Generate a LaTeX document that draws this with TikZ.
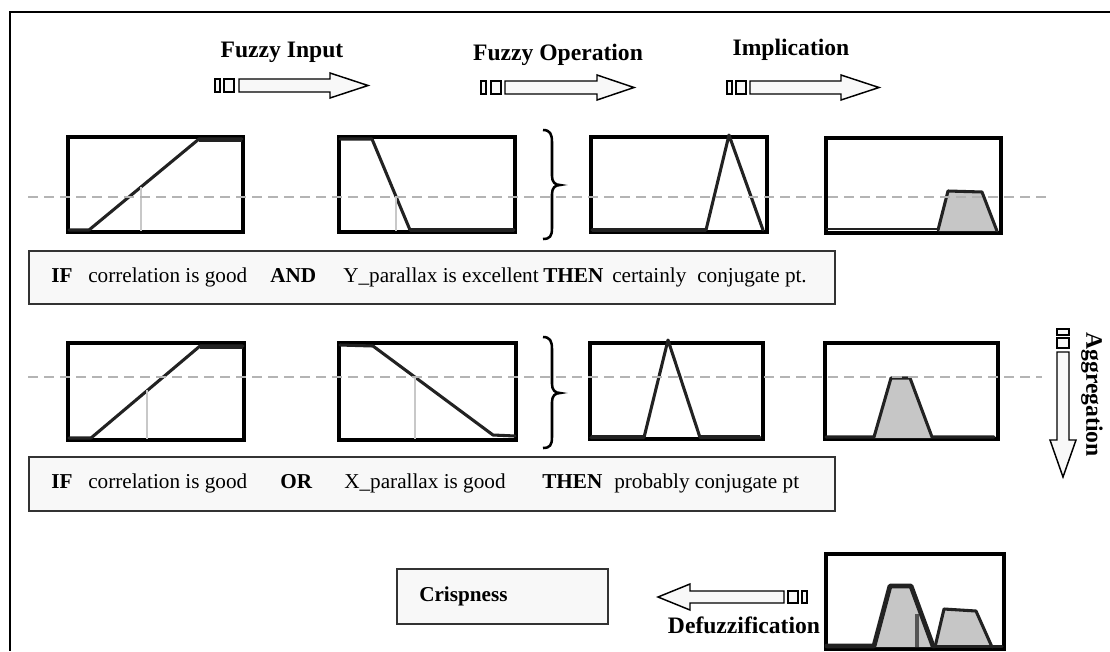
\documentclass[tikz,border=0pt]{standalone}
\usepackage{fontspec}
\setmainfont{Liberation Serif}
\definecolor{curvecol}{HTML}{222222}
\definecolor{vgray}{HTML}{C8C8C8}
\definecolor{dgray}{HTML}{B4B4B4}
\definecolor{fillgray}{HTML}{C6C6C6}
\definecolor{paper}{HTML}{F8F8F8}
\definecolor{rulebord}{HTML}{333333}
\definecolor{bargray}{HTML}{555555}
\newcommand\headfont{\fontsize{17.7}{20}\selectfont\bfseries}
\newcommand\rulefont{\fontsize{15.9}{18}\selectfont}
\begin{document}
\begin{tikzpicture}[x=0.75pt,y=-0.75pt,
  plotbox/.style={draw=black,line width=2.4pt},
  fn/.style={draw=curvecol,line width=2.3pt,line join=round,line cap=round},
  fnthick/.style={draw=curvecol,line width=3pt,line cap=butt},
  cut/.style={draw=vgray,line width=1.1pt},
  level/.style={draw=dgray,line width=1.1pt,dash pattern=on 7.5pt off 4.5pt},
  blockarrow/.style={draw=black,fill=paper,line width=1.1pt,line join=miter},
  rulebox/.style={draw=rulebord,fill=paper,line width=1.6pt},
  bracestyle/.style={draw=black,line width=1.9pt},
  txt/.style={inner sep=0pt,anchor=base west},
  head/.style={inner sep=0pt,anchor=base,font=\headfont}]
\useasboundingbox (0,0) rectangle (1110,651);
% outer frame
\draw[line width=1.6pt] (1110,12) -- (10,12) -- (10,651);

% headings
\node[head] (hin) at (282,57) {Fuzzy Input};
\node[head] (hop) at (558,60) {Fuzzy Operation};
\node[head] (him) at (791,55) {Implication};

% block arrows (right)
\draw[blockarrow] (215,79) rectangle (220,92);
\draw[blockarrow] (224,79) rectangle (234,92);
\draw[blockarrow] (239,79) -- (330,79) -- (330,73) -- (368,85.5) -- (330,98) -- (330,92) -- (239,92) -- cycle;

\draw[blockarrow] (481,81) rectangle (486,94);
\draw[blockarrow] (491,81) rectangle (501,94);
\draw[blockarrow] (505,81) -- (597,81) -- (597,75) -- (634,87.5) -- (597,100) -- (597,94) -- (505,94) -- cycle;

\draw[blockarrow] (727,81) rectangle (732,94);
\draw[blockarrow] (736,81) rectangle (746,94);
\draw[blockarrow] (750,81) -- (841,81) -- (841,75) -- (879,87.5) -- (841,100) -- (841,94) -- (750,94) -- cycle;

% ===== row 1 =====
\draw[plotbox] (68,137) rectangle (243,232);
\draw[fn] (69,230) -- (89,230) -- (199,139) -- (242,139);
\draw[fnthick] (199,139.5) -- (242,139.5);
\draw[cut] (141,187) -- (141,231);

\draw[plotbox] (339,137) rectangle (515,232);
\draw[fn] (340,139) -- (372,139) -- (410,230) -- (514,230);
\draw[fnthick] (410,229.5) -- (514,229.5);
\draw[cut] (396,196) -- (396,231);

\draw[bracestyle] (543,130) .. controls (550,130) and (552,134) .. (552,142) -- (552,176)
  .. controls (552,182) and (555,185) .. (560,185)
  .. controls (555,185) and (552,188) .. (552,194) -- (552,228)
  .. controls (552,236) and (550,239) .. (543,239);

\draw[plotbox] (591,137) rectangle (767,232);
\draw[fnthick] (592,229.5) -- (706,229.5);
\draw[fn] (592,230) -- (706,230) -- (729,135) -- (763,230);

\draw[plotbox] (826,138) rectangle (1001,233);
\fill[fillgray] (938,231) -- (948,191) -- (982,192) -- (997,231) -- cycle;
\draw[fn,line width=1.8pt] (827,229) -- (938,229);
\draw[fn] (938,230) -- (948,191) -- (982,192) -- (997,231);

\draw[level] (28,197) -- (1052,197);

% rule 1
\draw[rulebox] (29,251) rectangle (835,304);
\node[txt,font=\rulefont\bfseries] (r1if) at (51,282) {IF};
\node[txt,font=\rulefont] (r1a) at (88,282) {correlation is good};
\node[txt,font=\rulefont\bfseries] (r1and) at (270,282) {AND};
\node[txt,font=\rulefont] (r1b) at (343,282) {Y\_parallax is excellent};
\node[txt,font=\rulefont\bfseries] (r1then) at (543,282) {THEN};
\node[txt,font=\rulefont] (r1c) at (612,282) {certainly};
\node[txt,font=\rulefont] (r1d) at (697,282) {conjugate pt.};

% ===== row 2 =====
\draw[plotbox] (68,343) rectangle (244,440);
\draw[fn] (69,438) -- (91,438) -- (200,346) -- (243,346);
\draw[fnthick] (200,346.5) -- (243,346.5);
\draw[cut] (147,390) -- (147,439);

\draw[plotbox] (339,343) rectangle (516,440);
\draw[fn] (340,345) -- (373,346) -- (493,435) -- (515,436);
\draw[cut] (415,377) -- (415,439);

\draw[bracestyle] (543,337) .. controls (550,337) and (552,341) .. (552,349) -- (552,384)
  .. controls (552,390) and (555,393) .. (560,393)
  .. controls (555,393) and (552,396) .. (552,402) -- (552,437)
  .. controls (552,445) and (550,448) .. (543,448);

\draw[plotbox] (590,343) rectangle (763,439);
\draw[fnthick] (591,437) -- (644,437);
\draw[fnthick] (700,437) -- (760,437);
\draw[fn] (591,437.5) -- (644,437.5) -- (668,340) -- (700,437.5) -- (760,437.5);

\draw[plotbox] (825,343) rectangle (998,439);
\fill[fillgray] (874,438) -- (891,378) -- (910,378) -- (932,438) -- cycle;
\draw[fn] (826,437) -- (874,437) -- (891,378) -- (910,378) -- (932,437) -- (994,437);

\draw[level] (28,377) -- (1042,377);

% aggregation arrow
\draw[blockarrow] (1057,329) rectangle (1069,335);
\draw[blockarrow] (1057,338) rectangle (1069,348);
\draw[blockarrow] (1057,352) -- (1069,352) -- (1069,440) -- (1076,440) -- (1063,477) -- (1050,440) -- (1057,440) -- cycle;
\node[inner sep=0pt,font=\headfont,rotate=-90] (agg) at (1092,394.5) {Aggregation};

% rule 2
\draw[rulebox] (29,457) rectangle (835,511);
\node[txt,font=\rulefont\bfseries] (r2if) at (51,488) {IF};
\node[txt,font=\rulefont] (r2a) at (88,488) {correlation is good};
\node[txt,font=\rulefont\bfseries] (r2or) at (280,488) {OR};
\node[txt,font=\rulefont] (r2b) at (344,488) {X\_parallax is good};
\node[txt,font=\rulefont\bfseries] (r2then) at (542,488) {THEN};
\node[txt,font=\rulefont] (r2c) at (614,488) {probably conjugate pt};

% ===== bottom =====
\draw[rulebox] (397,569) rectangle (608,624);
\node[txt,font=\rulefont\bfseries] (crisp) at (419,601) {Crispness};

\draw[blockarrow] (784,591) -- (690,591) -- (690,584) -- (658,597) -- (690,610) -- (690,603) -- (784,603) -- cycle;
\draw[blockarrow] (788,591) rectangle (798,603);
\draw[blockarrow] (802,591) rectangle (807,603);
\node[head] (defuz) at (744,633) {Defuzzification};

\draw[plotbox] (826,554) rectangle (1004,649);
\fill[fillgray] (874,647) -- (890,586) -- (911,586) -- (933,647) -- cycle;
\fill[fillgray] (935,647) -- (944,609) -- (976,611) -- (992,647) -- cycle;
\draw[bargray,line width=3.5pt] (917,614) -- (917,647);
\draw[fn,line width=3.6pt] (827,646) -- (874,646) -- (890,586) -- (911,586) -- (933,646);
\draw[fn] (935,647) -- (944,609) -- (976,611) -- (992,647);
\draw[fn] (933,646.5) -- (1002,646.5);
\end{tikzpicture}
\end{document}
